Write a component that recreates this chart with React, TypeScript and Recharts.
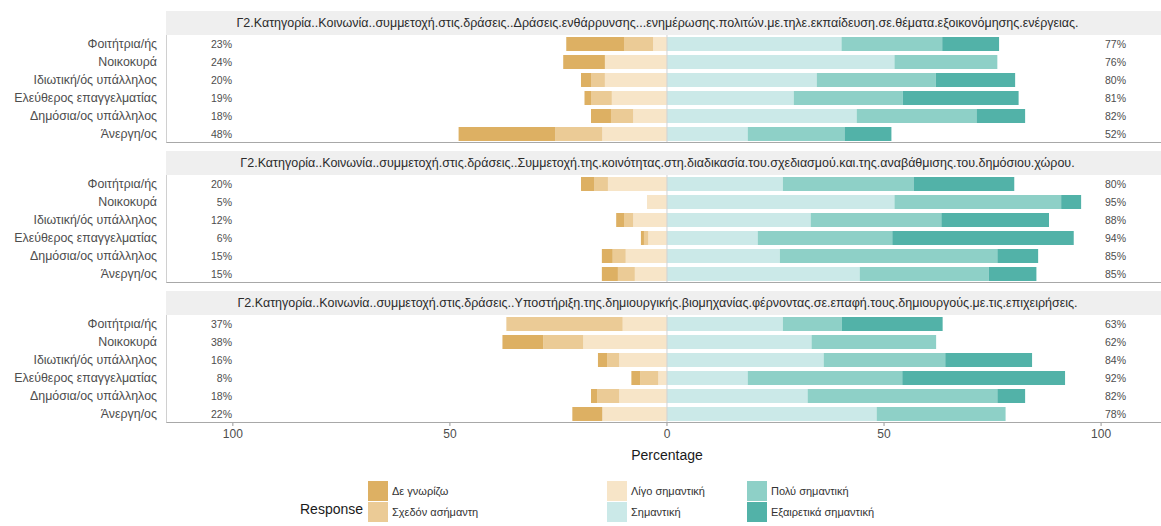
import React from 'react'
import { BarChart, Bar, XAxis, YAxis, ReferenceLine } from 'recharts'

const CATEGORIES = ['Φοιτήτρια/ής', 'Νοικοκυρά', 'Ιδιωτική/ός υπάλληλος', 'Ελεύθερος επαγγελματίας', 'Δημόσια/ος υπάλληλος', 'Άνεργη/ος']
const RESPONSES = ['Δε γνωρίζω', 'Σχεδόν ασήμαντη', 'Λίγο σημαντική', 'Σημαντική', 'Πολύ σημαντική', 'Εξαιρετικά σημαντική']
const COLORS = ['#DDB063', '#EBCB96', '#F7E5C8', '#CBE9E8', '#8ED0C7', '#52B2A8']
const X_TICKS = [-100, -50, 0, 50, 100]

const TITLE_1 = 'Γ2.Κατηγορία..Κοινωνία..συμμετοχή.στις.δράσεις..Δράσεις.ενθάρρυνσης...ενημέρωσης.πολιτών.με.τηλε.εκπαίδευση.σε.θέματα.εξοικονόμησης.ενέργειας.'
const TITLE_2 = 'Γ2.Κατηγορία..Κοινωνία..συμμετοχή.στις.δράσεις..Συμμετοχή.της.κοινότητας.στη.διαδικασία.του.σχεδιασμού.και.της.αναβάθμισης.του.δημόσιου.χώρου.'
const TITLE_3 = 'Γ2.Κατηγορία..Κοινωνία..συμμετοχή.στις.δράσεις..Υποστήριξη.της.δημιουργικής.βιομηχανίας.φέρνοντας.σε.επαφή.τους.δημιουργούς.με.τις.επιχειρήσεις.'

// panel 1
const P1_DE = [13.3, 9.6, 2.3, 1.5, 4.6, 22.3]
const P1_SX = [6.7, 0, 3.2, 4.8, 5.1, 10.8]
const P1_LIGO = [3.2, 14.3, 14.3, 12.7, 7.8, 14.9]
const P1_SIM = [40.2, 52.4, 34.5, 29.2, 43.7, 18.6]
const P1_POLY = [23.2, 23.7, 27.4, 25.1, 27.6, 22.3]
const P1_EXAIR = [13.1, 0, 18.3, 26.7, 11.2, 10.8]
const P1_LOW = ['23%', '24%', '20%', '19%', '18%', '48%']
const P1_HIGH = ['77%', '76%', '80%', '81%', '82%', '52%']

// panel 2
const P2_DE = [3.0, 0, 1.8, 0.7, 2.5, 3.7]
const P2_SX = [3.2, 0, 2.1, 1.0, 3.0, 3.9]
const P2_LIGO = [13.6, 4.6, 7.8, 4.3, 9.5, 7.4]
const P2_SIM = [26.7, 52.4, 33.1, 20.9, 26.0, 44.4]
const P2_POLY = [30.1, 38.4, 30.1, 31.0, 50.1, 29.7]
const P2_EXAIR = [23.2, 4.6, 24.8, 41.8, 9.4, 11.0]
const P2_LOW = ['20%', '5%', '12%', '6%', '15%', '15%']
const P2_HIGH = ['80%', '95%', '88%', '94%', '85%', '85%']

// panel 3
const P3_DE = [0, 9.4, 2.1, 2.0, 1.4, 6.9]
const P3_SX = [26.8, 9.2, 2.8, 4.2, 5.1, 0]
const P3_LIGO = [10.2, 19.3, 11.0, 2.0, 11.0, 14.9]
const P3_SIM = [26.7, 33.3, 36.1, 18.6, 32.4, 48.3]
const P3_POLY = [13.6, 28.7, 28.0, 35.6, 43.7, 29.7]
const P3_EXAIR = [23.2, 0, 20.0, 37.5, 6.4, 0]
const P3_LOW = ['37%', '38%', '16%', '8%', '18%', '22%']
const P3_HIGH = ['63%', '62%', '84%', '92%', '82%', '78%']

const makeRows = (de, sx, ligo, sim, poly, exair, low, high) =>
  CATEGORIES.map((name, i) => ({
    name, de: -de[i], sx: -sx[i], ligo: -ligo[i], sim: sim[i], poly: poly[i], exair: exair[i], low: low[i], high: high[i],
  }))

const rows1 = makeRows(P1_DE, P1_SX, P1_LIGO, P1_SIM, P1_POLY, P1_EXAIR, P1_LOW, P1_HIGH)
const rows2 = makeRows(P2_DE, P2_SX, P2_LIGO, P2_SIM, P2_POLY, P2_EXAIR, P2_LOW, P2_HIGH)
const rows3 = makeRows(P3_DE, P3_SX, P3_LIGO, P3_SIM, P3_POLY, P3_EXAIR, P3_LOW, P3_HIGH)

const W = 1161
const LEFT = 166
const STRIP_H = 24
const PLOT_H = 108
const FONT = '"Liberation Sans", Arial, sans-serif'

// plain svg text so long names never wrap
function TextTick(props) {
  const { x, y, payload, anchor, size } = props
  return <text x={x} y={y} dy={4} textAnchor={anchor} fontSize={size} fill="#4d4d4d" fontFamily={FONT}>{payload.value}</text>
}

function Panel({ title, rows, top, showAxis }) {
  const h = PLOT_H + (showAxis ? 22 : 0)
  return (
    <>
      <div style={{ position: 'absolute', left: LEFT, top, width: W - LEFT, height: STRIP_H, background: '#EFEFEF', color: '#2b2b2b', fontSize: 12.5, lineHeight: STRIP_H + 'px', textAlign: 'center', whiteSpace: 'nowrap', overflow: 'hidden', boxSizing: 'border-box', paddingRight: 12 }}>
        {title}
      </div>
      <div style={{ position: 'absolute', left: 0, top: top + STRIP_H }}>
        <BarChart width={W} height={h} data={rows} layout="vertical" stackOffset="sign" barCategoryGap="11%"
          margin={{ top: 0, right: 0, bottom: 0, left: 0 }}>
          <XAxis type="number" domain={[-115.4, 113.8]} allowDataOverflow ticks={X_TICKS} hide={!showAxis} height={22}
            tickFormatter={(v) => String(Math.abs(v))} axisLine={false} tickLine={{ stroke: '#999' }} tickSize={3} tickMargin={3}
            tick={{ fill: '#4d4d4d', fontSize: 12, fontFamily: FONT }} />
          <YAxis yAxisId="cat" type="category" dataKey="name" width={LEFT} axisLine={false} tickLine={false} tickSize={0} tickMargin={9}
            interval={0} tick={<TextTick anchor="end" size={12.4} />} />
          <YAxis yAxisId="low" type="category" dataKey="low" orientation="left" mirror width={10} axisLine={false} tickLine={false}
            tickSize={0} tickMargin={66} interval={0} tick={<TextTick anchor="end" size={10.5} />} />
          <YAxis yAxisId="high" type="category" dataKey="high" orientation="right" mirror width={10} axisLine={false} tickLine={false}
            tickSize={0} tickMargin={56} interval={0} tick={<TextTick anchor="start" size={10.5} />} />
          <ReferenceLine yAxisId="cat" x={0} stroke="#D2D2D2" strokeWidth={1} />
          <Bar yAxisId="cat" dataKey="ligo" stackId="s" fill={COLORS[2]} isAnimationActive={false} />
          <Bar yAxisId="cat" dataKey="sx" stackId="s" fill={COLORS[1]} isAnimationActive={false} />
          <Bar yAxisId="cat" dataKey="de" stackId="s" fill={COLORS[0]} isAnimationActive={false} />
          <Bar yAxisId="cat" dataKey="sim" stackId="s" fill={COLORS[3]} isAnimationActive={false} />
          <Bar yAxisId="cat" dataKey="poly" stackId="s" fill={COLORS[4]} isAnimationActive={false} />
          <Bar yAxisId="cat" dataKey="exair" stackId="s" fill={COLORS[5]} isAnimationActive={false} />
        </BarChart>
      </div>
      <div style={{ position: 'absolute', left: LEFT, top: top + STRIP_H, width: W - LEFT, height: PLOT_H, boxSizing: 'border-box',
        borderLeft: '1px solid #D0D0D0', borderBottom: '1px solid #A8A8A8', pointerEvents: 'none' }} />
    </>
  )
}

const LEGEND_COLS = [368, 607, 747]
const LEGEND_ROWS = [481, 502]

export default function App() {
  return (
    <div style={{ position: 'absolute', left: 0, top: 0, width: W, height: 526, background: '#fff', fontFamily: FONT, overflow: 'hidden' }}>
      <Panel title={TITLE_1} rows={rows1} top={11} showAxis={false} />
      <Panel title={TITLE_2} rows={rows2} top={151} showAxis={false} />
      <Panel title={TITLE_3} rows={rows3} top={291} showAxis={true} />
      <div style={{ position: 'absolute', left: 567, top: 447, width: 200, textAlign: 'center', fontSize: 14, color: '#1a1a1a' }}>Percentage</div>
      <div style={{ position: 'absolute', left: 300, top: 501, fontSize: 14, color: '#1a1a1a' }}>Response</div>
      {RESPONSES.map((r, i) => {
        const col = Math.floor(i / 2)
        const row = i % 2
        return (
          <div key={r} style={{ position: 'absolute', left: LEGEND_COLS[col], top: LEGEND_ROWS[row], height: 20, display: 'flex', alignItems: 'center' }}>
            <span style={{ width: 20, height: 20, background: COLORS[i], display: 'inline-block' }} />
            <span style={{ marginLeft: 4, fontSize: 11, color: '#333' }}>{r}</span>
          </div>
        )
      })}
    </div>
  )
}
